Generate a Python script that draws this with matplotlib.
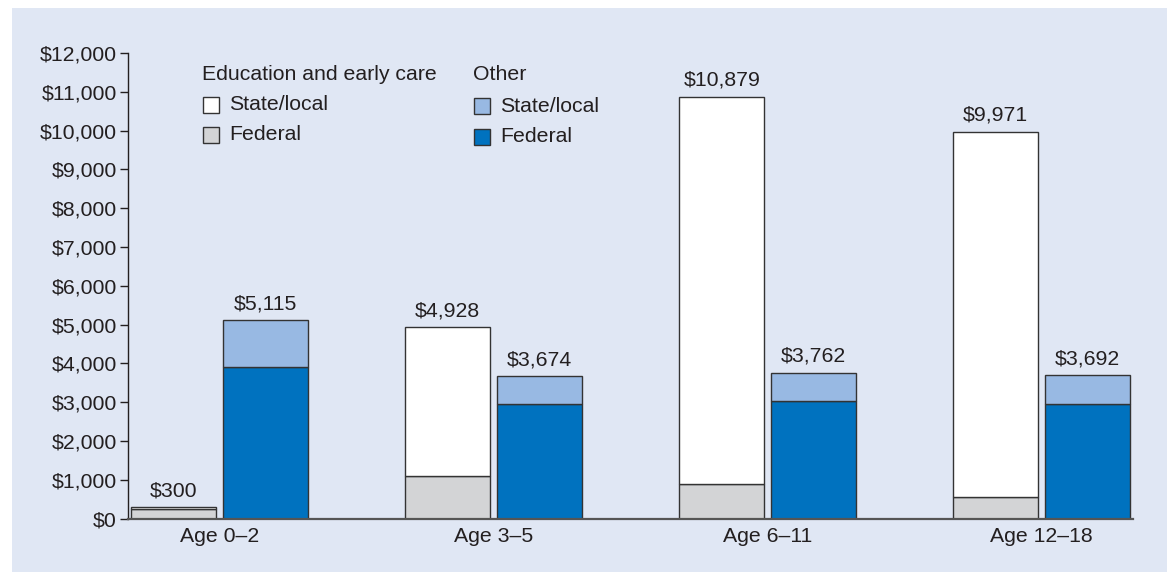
import matplotlib.pyplot as plt
import matplotlib.patches as mpatches
import numpy as np

plt.rcParams['font.family'] = ['Liberation Sans', 'DejaVu Sans']

groups = ['Age 0–2', 'Age 3–5', 'Age 6–11', 'Age 12–18']

# education and early care
edu_federal = [240, 1100, 900, 550]
edu_total = [300, 4928, 10879, 9971]
# other spending
other_federal = [3920, 2950, 3020, 2950]
other_total = [5115, 3674, 3762, 3692]

edu_state = [t - f for t, f in zip(edu_total, edu_federal)]
other_state = [t - f for t, f in zip(other_total, other_federal)]

c_white = '#ffffff'
c_gray = '#d3d4d6'
c_light = '#98b9e3'
c_blue = '#0072bf'
edge = '#333333'
bg = '#e0e7f4'
txt = '#231f20'
fs = 15.3

W, H = 1167, 572
fig = plt.figure(figsize=(W / 100, H / 100), dpi=100)
fig.patch.set_facecolor('white')
fig.patches.append(mpatches.Rectangle((12 / W, 0), 1, 1 - 8 / H, transform=fig.transFigure,
                                      facecolor=bg, edgecolor='none', zorder=-10))

ax = fig.add_axes([128 / W, 1 - 518.7 / H, (1133 - 128) / W, (518.7 - 53) / H])
ax.set_facecolor('none')

x = np.arange(len(groups))
w = 0.31
off = 0.167

ax.bar(x - off, edu_federal, w, color=c_gray, edgecolor=edge, linewidth=1)
ax.bar(x - off, edu_state, w, bottom=edu_federal, color=c_white, edgecolor=edge, linewidth=1)
ax.bar(x + off, other_federal, w, color=c_blue, edgecolor=edge, linewidth=1)
ax.bar(x + off, other_state, w, bottom=other_federal, color=c_light, edgecolor=edge, linewidth=1)

for xi, v in zip(x - off, edu_total):
    ax.annotate(f'${v:,}', (xi, v), xytext=(0, 5), textcoords='offset points',
                ha='center', va='bottom', fontsize=fs, color=txt)
for xi, v in zip(x + off, other_total):
    ax.annotate(f'${v:,}', (xi, v), xytext=(0, 5), textcoords='offset points',
                ha='center', va='bottom', fontsize=fs, color=txt)

ax.set_xlim(-0.334, 3.334)
ax.set_ylim(0, 12000)
ax.set_yticks(np.arange(0, 12001, 1000))
ax.set_yticklabels([f'${v:,}' for v in range(0, 12001, 1000)])
ax.set_xticks(x)
ax.set_xticklabels(groups)
ax.tick_params(axis='y', direction='out', length=6, width=1, pad=2,
               labelsize=fs, labelcolor=txt, color=txt)
ax.tick_params(axis='x', length=0, pad=6, labelsize=fs, labelcolor=txt)

for s in ['top', 'right']:
    ax.spines[s].set_visible(False)
ax.spines['left'].set_color(txt)
ax.spines['left'].set_linewidth(1)
ax.spines['bottom'].set_color('#555555')
ax.spines['bottom'].set_linewidth(1.6)


def fx(px):
    return px / W


def fy(py):
    return 1 - py / H


# legend drawn by hand in two columns
fig.text(fx(202), fy(75), 'Education and early care', fontsize=fs, va='center', color=txt)
fig.text(fx(473), fy(75), 'Other', fontsize=fs, va='center', color=txt)
legend_rows = [
    (202, 105, c_white, 'State/local'),
    (202, 135, c_gray, 'Federal'),
    (473, 106, c_light, 'State/local'),
    (473, 137, c_blue, 'Federal'),
]
for lx, ly, col, lab in legend_rows:
    fig.patches.append(mpatches.Rectangle((fx(lx + 1), fy(ly + 7.5)), 15.5 / W, 15 / H,
                                          transform=fig.transFigure, facecolor=col,
                                          edgecolor=edge, linewidth=1))
    fig.text(fx(lx + 27), fy(ly), lab, fontsize=fs, va='center', color=txt)

fig.savefig('out.png', dpi=100)
